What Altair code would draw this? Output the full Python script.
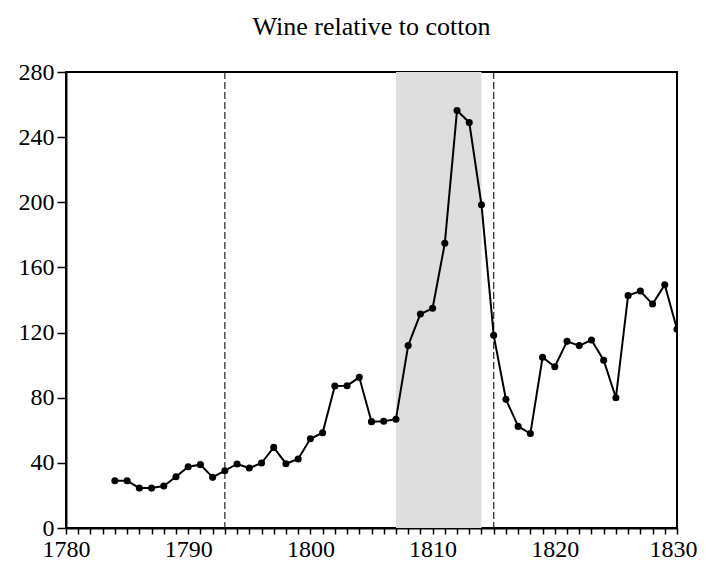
import altair as alt
import pandas as pd

years = list(range(1784, 1831))
values = [29, 29, 24.5, 24.5, 25.8, 31.5, 37.6, 38.9, 31.1, 35.2,
          39.3, 36.8, 39.9, 49.5, 39.5, 42.4, 54.8, 58.5, 87.2, 87.4,
          92.5, 65.3, 65.5, 66.8, 112, 131.4, 134.9, 174.8, 256.4, 249,
          198.5, 118.3, 79, 62.4, 58, 104.8, 99, 114.6, 112, 115.4,
          103, 80, 142.8, 145.5, 137.5, 149.4, 122]
shade_start = [1807]
shade_end = [1814]
event_years = [1793, 1815]
x_ticks = list(range(1780, 1831))
y_ticks = [0, 40, 80, 120, 160, 200, 240, 280]

df = pd.DataFrame({"year": years, "value": values})
shade_df = pd.DataFrame({"start": shade_start, "end": shade_end})
ev_df = pd.DataFrame({"year": event_years})

FONT = "Liberation Serif"
W, H = 611, 456

xscale = alt.Scale(domain=[1780, 1830], nice=False, zero=False)
yscale = alt.Scale(domain=[0, 280], nice=False)

xaxis = alt.Axis(values=x_ticks, labelExpr="datum.value % 10 == 0 ? datum.value : ''",
                 title=None, grid=False, tickSize=6, tickWidth=1.5, tickColor="black",
                 domainColor="black", domainWidth=2, labelFont=FONT, labelFontSize=24,
                 labelColor="black", labelPadding=3, labelFlush=False, labelOverlap=False,
                 labelBound=False,
                 labelOffset={"condition": {"test": "datum.value == 1830", "value": -4}, "value": 0})
yaxis = alt.Axis(values=y_ticks, title=None, grid=False, tickSize=9, tickWidth=1.5,
                 tickColor="black", domainColor="black", domainWidth=2, labelFont=FONT,
                 labelFontSize=24, labelColor="black", labelPadding=3, labelOverlap=False)

shade = alt.Chart(shade_df).mark_rect(color="#dedede").encode(
    x=alt.X("start:Q", scale=xscale, axis=xaxis),
    x2="end:Q",
)

rules = alt.Chart(ev_df).mark_rule(color="#222222", strokeWidth=1.2, strokeDash=[7, 3]).encode(
    x=alt.X("year:Q", scale=xscale, axis=xaxis),
)

line = alt.Chart(df).mark_line(color="black", strokeWidth=2, clip=True).encode(
    x=alt.X("year:Q", scale=xscale, axis=xaxis),
    y=alt.Y("value:Q", scale=yscale, axis=yaxis),
)

pts = alt.Chart(df).mark_circle(color="black", size=50, opacity=1, clip=True).encode(
    x=alt.X("year:Q", scale=xscale, axis=xaxis),
    y=alt.Y("value:Q", scale=yscale, axis=yaxis),
)

chart = alt.layer(shade, rules, line, pts).properties(
    width=W, height=H,
    background="white",
    title=alt.Title("Wine relative to cotton", font=FONT, fontSize=26, fontWeight="normal",
                    color="black", anchor="middle", offset=20),
    autosize=alt.AutoSizeParams(type="none"),
    padding={"left": 58, "top": 64, "right": 21, "bottom": 35},
).configure_view(stroke="black", strokeWidth=2)

chart.save("out.html", embed_options={"renderer": "svg", "actions": False})
